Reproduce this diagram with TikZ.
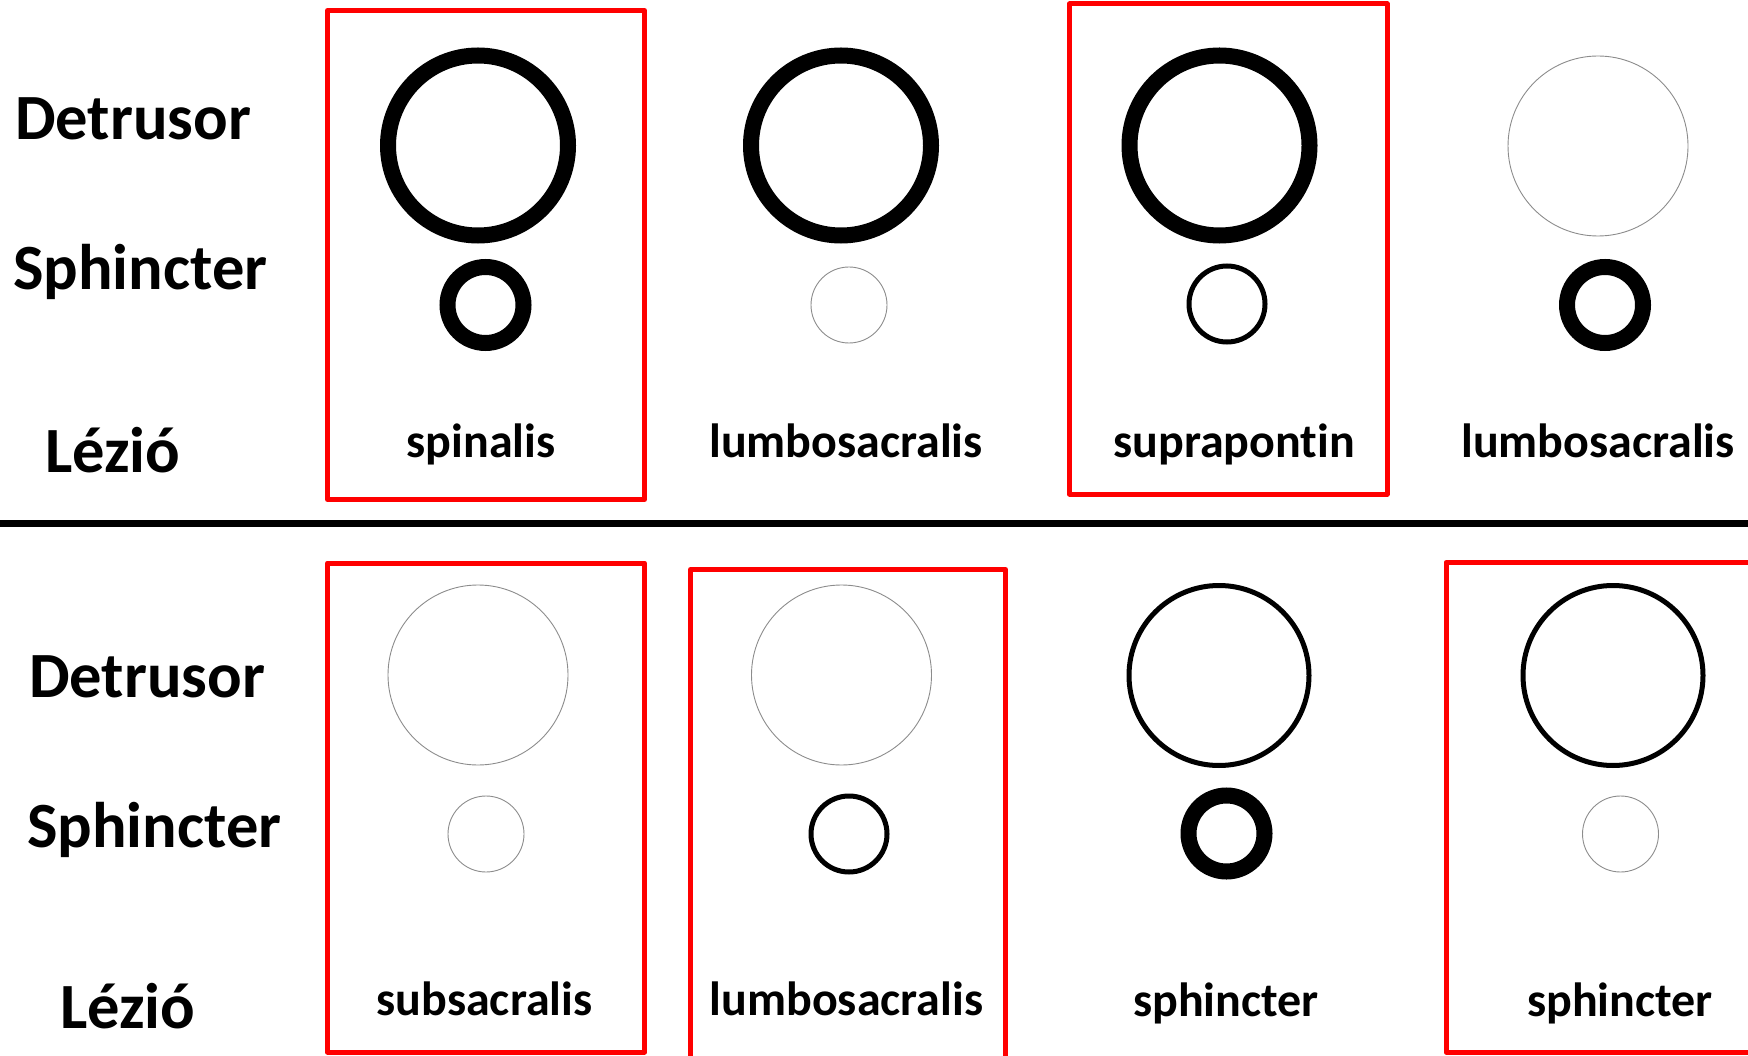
\documentclass[tikz,border=0pt]{standalone}
\usepackage{fontspec}
\setmainfont{Carlito}[Ligatures=NoCommon]
\begin{document}
\begin{tikzpicture}[x=1pt,y=-1pt,
  ring/.style={circle,inner sep=0pt,outer sep=0pt},
  bigr/.style={ring,minimum size=180pt},
  smallr/.style={ring,minimum size=76pt},
  thickl/.style={draw=black,line width=16pt},
  midl/.style={draw=black,line width=5pt},
  thinl/.style={draw=black!45,line width=0.9pt},
  redbox/.style={draw=red,line width=5pt,line join=round},
  rowlab/.style={anchor=base west,inner sep=0pt,font=\fontsize{64.5}{70}\selectfont\bfseries},
  itemlab/.style={anchor=base,inner sep=0pt,font=\fontsize{48}{52}\selectfont\bfseries}]
\useasboundingbox (0,0) rectangle (1748,1056);
\clip (0,0) rectangle (1748,1056);
% red boxes
\draw[redbox] (327.5,10.5) rectangle (644.5,499.5);
\draw[redbox] (1069.5,4) rectangle (1387,494);
\draw[redbox] (327.5,563) rectangle (644.5,1052);
\draw[redbox] (690.5,569.5) rectangle (1005.5,1070);
\draw[redbox] (1446,562.5) rectangle (1770,1052);
% divider
\draw[line width=7pt] (0,523) -- (1748,523);
% row labels
\node[rowlab] (d1) at (15,140) {Detrusor};
\node[rowlab] (s1) at (13,290) {Sphincter};
\node[rowlab] (l1) at (45,472) {Lézió};
\node[rowlab] (d2) at (29,697) {Detrusor};
\node[rowlab] (s2) at (27,847) {Sphincter};
\node[rowlab] (l2) at (60,1028) {Lézió};
% top row
\node[bigr,thickl] (tb1) at (478,145.5) {};
\node[smallr,thickl] (ts1) at (485.5,305) {};
\node[itemlab] (tt1) at (481,457) {spinalis};
\node[bigr,thickl] (tb2) at (841,145.5) {};
\node[smallr,thinl] (ts2) at (849,305) {};
\node[itemlab] (tt2) at (846,457) {lumbosacralis};
\node[bigr,thickl] (tb3) at (1219.5,145.5) {};
\node[smallr,midl] (ts3) at (1227,304) {};
\node[itemlab] (tt3) at (1234,457) {suprapontin};
\node[bigr,thinl] (tb4) at (1598,146) {};
\node[smallr,thickl] (ts4) at (1605,305) {};
\node[itemlab] (tt4) at (1598,457) {lumbosacralis};
% bottom row
\node[bigr,thinl] (bb1) at (478,675) {};
\node[smallr,thinl] (bs1) at (486,834) {};
\node[itemlab] (bt1) at (484.5,1015) {subsacralis};
\node[bigr,thinl] (bb2) at (841.5,675) {};
\node[smallr,midl] (bs2) at (849,834) {};
\node[itemlab] (bt2) at (846.5,1015) {lumbosacralis};
\node[bigr,midl] (bb3) at (1219,675.5) {};
\node[smallr,thickl] (bs3) at (1226.5,833.5) {};
\node[itemlab] (bt3) at (1226,1016) {sphincter};
\node[bigr,midl] (bb4) at (1613,675.5) {};
\node[smallr,thinl] (bs4) at (1620.5,834) {};
\node[itemlab] (bt4) at (1620,1016) {sphincter};
\end{tikzpicture}
\end{document}
